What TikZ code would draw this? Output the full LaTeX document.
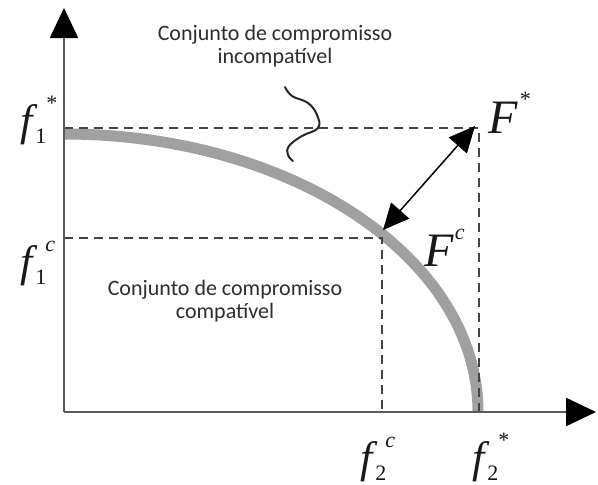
\documentclass[tikz,border=0pt]{standalone}
\usepackage{fontspec}
\setmainfont{Liberation Serif}
\newfontfamily\calibfont{Carlito}
\usetikzlibrary{arrows.meta}
\definecolor{curvegray}{HTML}{A0A0A0}
\definecolor{axisgray}{HTML}{5A5A5A}
\definecolor{dashgray}{HTML}{444444}
\definecolor{txtgray}{HTML}{2E2E2E}
\newcommand{\flab}[3]{\textit{#1}\kern-2pt\rlap{\raisebox{-8pt}{\fontsize{22}{22}\selectfont #2}}\kern10pt\raisebox{25pt}{\fontsize{22}{22}\selectfont\textit{#3}}}
\newcommand{\Flab}[2]{{\fontsize{48}{48}\selectfont\textit{#1}}\kern1pt\raisebox{27pt}{\fontsize{22}{22}\selectfont\textit{#2}}}
\begin{document}
\begin{tikzpicture}[x=1pt,y=-1pt,
 axis/.style={draw=axisgray, line width=2.5pt, -{Triangle[length=30pt,width=28pt,color=black]}},
 guide/.style={draw=dashgray, line width=2.2pt, dash pattern=on 9pt off 6pt},
 front/.style={draw=curvegray, line width=11pt},
 mathlab/.style={inner sep=0pt, text=black!90, font=\fontsize{44}{44}\selectfont},
 note/.style={inner sep=0pt, align=center, text=txtgray, font=\calibfont\fontsize{22}{23}\selectfont},
 dist/.style={draw=black, line width=1.5pt, {Triangle[length=26pt,width=24pt]}-{Triangle[length=26pt,width=24pt]}},
 bracestyle/.style={draw=black!85, line width=2pt, line cap=round}]
\useasboundingbox (0,0) rectangle (598,485);
\fill[white] (0,0) rectangle (598,485);

\coordinate (O) at (64,412);
\coordinate (Ytop) at (64,8);
\coordinate (Xend) at (596,412);
\coordinate (Fs) at (479,128);
\coordinate (Fc) at (382,238);
\coordinate (A1s) at (64,128);
\coordinate (A1c) at (64,238);
\coordinate (A2c) at (382,412);
\coordinate (A2s) at (479,412);
\coordinate (Ptop) at (475,126);
\coordinate (Pbot) at (383,230);

\draw[front] (64,134) arc[start angle=90, end angle=0, x radius=414pt, y radius=278pt];
\draw[guide] (A1s) -- (Fs) -- (A2s);
\draw[guide] (A1c) -- (Fc) -- (A2c);
\draw[axis] (O) -- (Ytop);
\draw[axis] (O) -- (Xend);
\draw[dist] (Pbot) -- (Ptop);

\draw[bracestyle] plot[smooth, tension=0.7] coordinates {(285,87) (292,96) (308,103) (317,115) (318,128) (302,136) (289,146) (288,155) (293,161)};

\node[mathlab, anchor=base west] (lf1s) at (20,135) {\flab{f}{1}{*}};
\node[mathlab, anchor=base west] (lf1c) at (20,276) {\flab{f}{1}{c}};
\node[mathlab, anchor=base west] (lf2c) at (360,472) {\flab{f}{2}{c}};
\node[mathlab, anchor=base west] (lf2s) at (472,472) {\flab{f}{2}{*}};
\node[mathlab, anchor=base west] (lFs) at (488,133) {\Flab{F}{*}};
\node[mathlab, anchor=base west] (lFc) at (424,266) {\Flab{F}{c}};

\node[note, anchor=base] (tinc) at (275,63) {Conjunto de compromisso\\incompatível};
\node[note, anchor=base] (tcomp) at (225,318) {Conjunto de compromisso\\compatível};
\end{tikzpicture}
\end{document}
